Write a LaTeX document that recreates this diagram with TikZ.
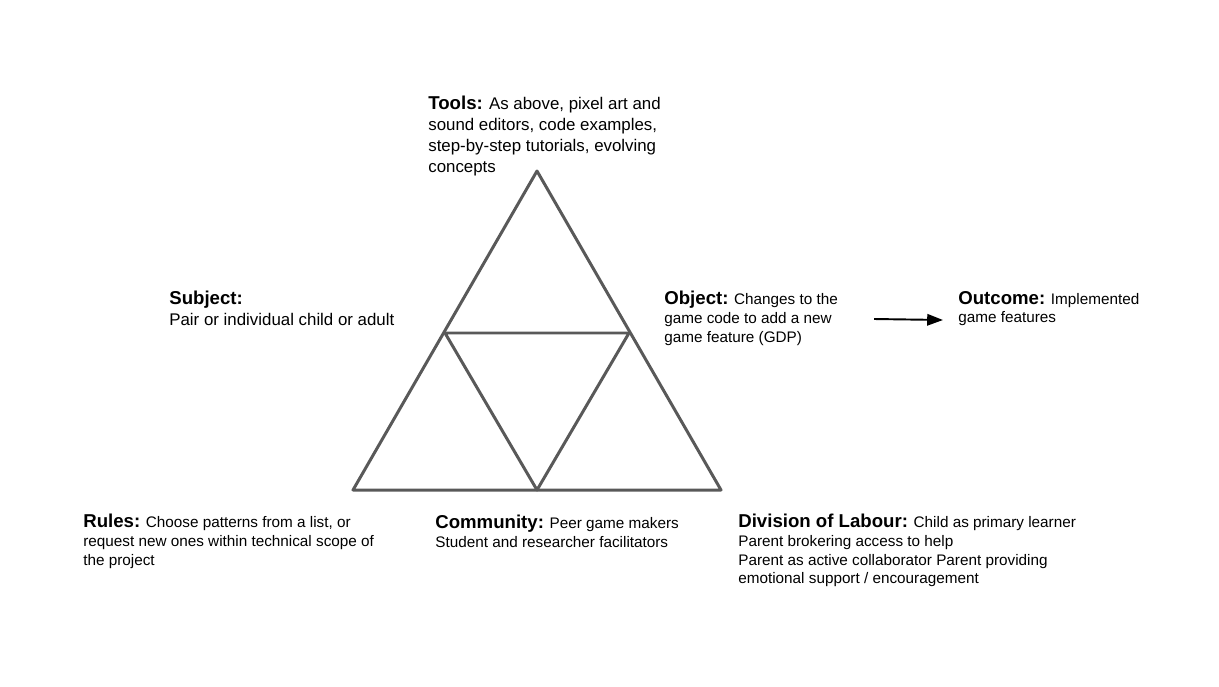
\documentclass[tikz,border=0pt]{standalone}
\usepackage{fontspec}
\setmainfont{Liberation Sans}
\usetikzlibrary{arrows.meta}

\definecolor{triline}{HTML}{595959}
\newcommand{\lbl}[1]{{\fontsize{10.6}{12}\selectfont\bfseries #1}}

\tikzset{
  edge/.style={draw=triline, line width=1.7pt, line join=round},
  info/.style={anchor=north west, inner sep=0pt, align=left, font=\fontsize{9.6}{11.8}\selectfont},
  small/.style={info, font=\fontsize{8.7}{10.6}\selectfont},
  flow/.style={line width=1.1pt, -{Triangle[length=9pt, width=6.5pt]}}
}

\begin{document}
\begin{tikzpicture}[x=0.02cm, y=-0.02cm]
    \useasboundingbox (0,0) rectangle (1219,686);

    % corners of the big triangle and midpoints
    \coordinate (top) at (537,171);
    \coordinate (bl) at (353,490);
    \coordinate (br) at (721,490);
    \coordinate (ml) at (445,333);
    \coordinate (mr) at (629,333);
    \coordinate (mb) at (537,490);

    \draw[edge] (top) -- (br) -- (bl) -- cycle;
    \draw[edge] (ml) -- (mr) -- (mb) -- cycle;

    % labels
    \node[info] (tools) at (428,96) {\lbl{Tools:} As above, pixel art and\\sound editors, code examples,\\step-by-step tutorials, evolving\\concepts};
    \node[info] (subject) at (169,291) {\lbl{Subject:}\\Pair or individual child or adult};
    \node[small] (object) at (664,291) {\lbl{Object:} Changes to the\\game code to add a new\\game feature (GDP)};
    \node[small] (outcome) at (958,291) {\lbl{Outcome:} Implemented\\game features};
    \node[small] (rules) at (83,514) {\lbl{Rules:} Choose patterns from a list, or\\request new ones within technical scope of\\the project};
    \node[small] (community) at (435,515) {\lbl{Community:} Peer game makers\\Student and researcher facilitators};
    \node[small] (labour) at (738,514) {\lbl{Division of Labour:} Child as primary learner\\Parent brokering access to help\\Parent as active collaborator Parent providing\\emotional support / encouragement};

    % object leads to outcome
    \coordinate (objout) at (874,319);
    \coordinate (outin) at (943,320);
    \draw[flow] (objout) -- (outin);
\end{tikzpicture}
\end{document}
